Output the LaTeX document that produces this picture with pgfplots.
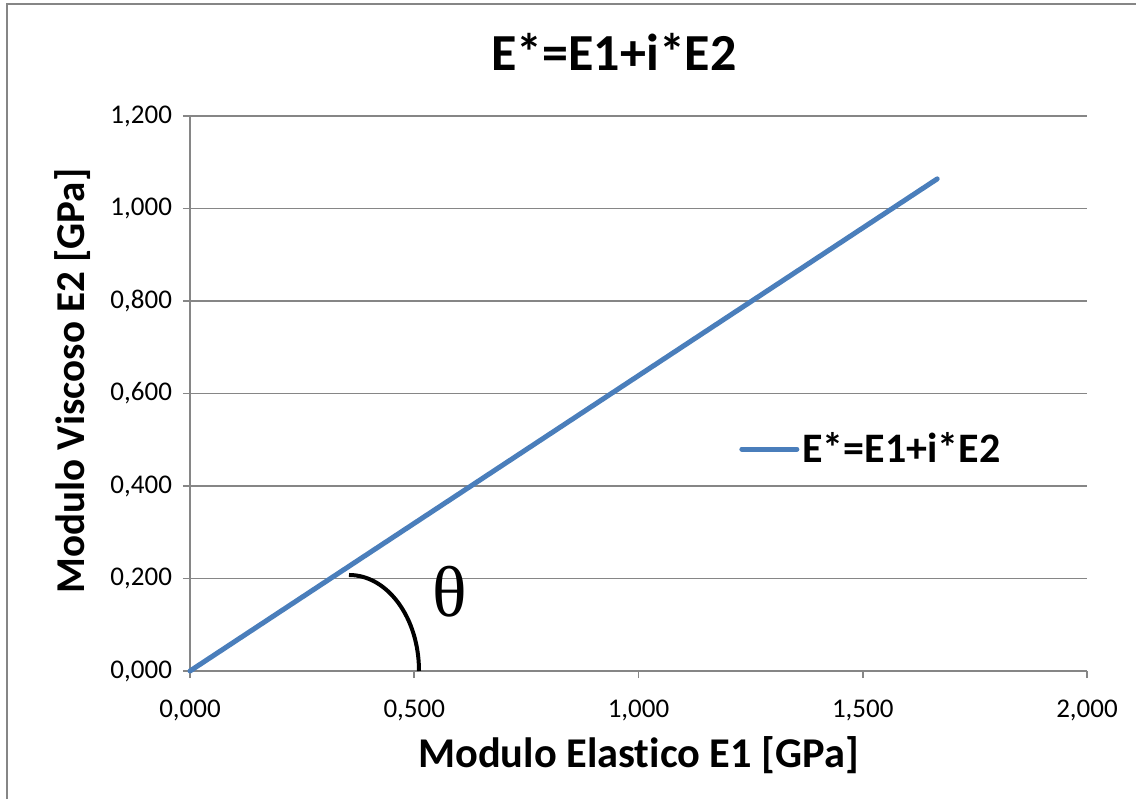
\documentclass[border=0pt]{standalone}
\usepackage{fontspec}
\setmainfont{Carlito}[Ligatures=NoCommon]
\newfontfamily\thetafont{Liberation Serif}
\usepackage{pgfplots}
\pgfplotsset{compat=1.18}

\definecolor{gridgray}{HTML}{868686}
\definecolor{lineblue}{HTML}{4A7EBB}

\begin{document}
\begin{tikzpicture}[x=1pt,y=1pt]
\useasboundingbox (0,0) rectangle (568,399.5);
% chart frame (right and bottom edges fall outside the picture)
\draw[gridgray, line width=1pt] (3.5,0) -- (3.5,397.5) -- (568,397.5);
\begin{axis}[
    at={(95pt,64pt)}, anchor=south west,
    scale only axis,
    width=448.5pt, height=277.5pt,
    xmin=0, xmax=2, ymin=0, ymax=1.2,
    xtick={0,0.5,1,1.5,2},
    ytick={0,0.2,0.4,0.6,0.8,1,1.2},
    axis x line*=bottom, axis y line*=left,
    axis line style={draw=gridgray, line width=0.8pt, -},
    ymajorgrids,
    major grid style={draw=gridgray, line width=0.8pt},
    tick style={draw=gridgray, line width=0.8pt},
    tick align=outside, major tick length=3.5pt,
    /pgf/number format/.cd, fixed, fixed zerofill, precision=3,
        use comma, 1000 sep={}, assume math mode=true,
    /pgfplots/.cd,
    ticklabel style={font=\fontsize{13.5}{15}\selectfont, text=black},
    xticklabel style={yshift=-7.5pt},
    yticklabel style={xshift=-2pt},
    title={E*=E1+i*E2},
    title style={at={(axis description cs:0.4727,1.0946)}, anchor=center,
        font=\fontsize{26}{30}\selectfont\bfseries},
    xlabel={Modulo Elastico E1 [GPa]},
    xlabel style={at={(axis description cs:0.5,-0.151)}, anchor=center,
        font=\fontsize{21.2}{24}\selectfont\bfseries},
    ylabel={Modulo Viscoso E2 [GPa]},
    ylabel style={at={(axis description cs:-0.1304,0.5225)}, anchor=center,
        rotate=0, font=\fontsize{20.5}{24}\selectfont\bfseries},
    legend style={at={(axis description cs:0.612,0.4)}, anchor=west,
        draw=none, fill=none, inner sep=0pt,
        font=\fontsize{21}{24}\selectfont\bfseries,
        nodes={inner xsep=1.5pt, inner ysep=0pt}},
    legend image code/.code={\draw[#1, line cap=round] (0pt,0pt) -- (27.5pt,0pt);},
    clip=false,
]
\addplot[lineblue, line width=2.5pt, line cap=round] coordinates {
    (0,0) (1.666,1.064)
};
\addlegendentry{E*=E1+i*E2}
% angle mark
\draw[black, line width=2pt] (axis cs:0.3545,0.2076)
    .. controls (axis cs:0.4407,0.2076) and (axis cs:0.5106,0.1146)
    .. (axis cs:0.5106,0);
\node[anchor=center, font=\fontsize{36}{40}\selectfont\thetafont]
    at (axis cs:0.5785,0.172) {θ};
\end{axis}
\end{tikzpicture}
\end{document}
